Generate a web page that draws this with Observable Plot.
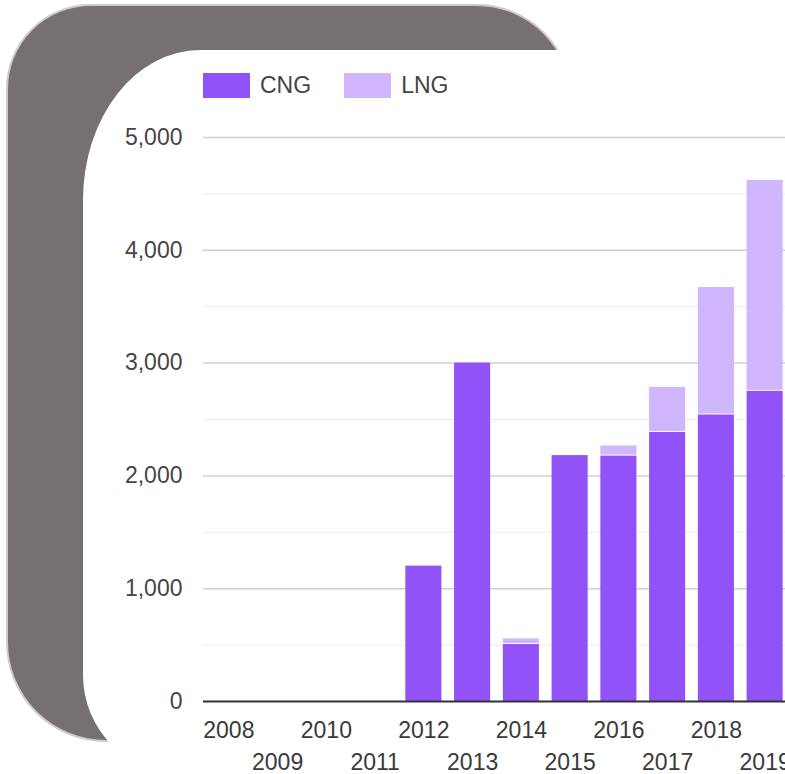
<!DOCTYPE html>
<html>
<head>
<meta charset="utf-8">
<script src="https://cdn.jsdelivr.net/npm/d3@7"></script>
<script src="https://cdn.jsdelivr.net/npm/@observablehq/plot@0.6"></script>
<style>
  html, body { margin: 0; padding: 0; width: 785px; height: 774px; overflow: hidden; background: #fff; }
  body { position: relative; font-family: "Liberation Sans", Arial, sans-serif; }
  #gray { position: absolute; left: 6px; top: 4px; width: 562px; height: 734px; background: #767170;
          border: 2px solid #cbcbcb; border-radius: 85px 95px 0 100px; }
  #card { position: absolute; left: 83px; top: 50px; width: 800px; height: 725px; background: #fff;
          border-radius: 117px 0 0 100px / 150px 0 0 100px; }
  #legend { position: absolute; left: 203px; top: 72px; display: flex; align-items: center; font-size: 23px; color: #444; }
  #legend .sw { width: 47px; height: 25px; margin-right: 10px; }
  #legend .item { display: flex; align-items: center; margin-right: 33px; }
  #chart { position: absolute; left: 90px; top: 115px; width: 702px; }
  #chart svg { max-width: none !important; }
</style>
</head>
<body>
<div id="gray"></div>
<div id="card"></div>
<div id="legend"></div>
<div id="chart"></div>
<script>
const years = ["2008","2009","2010","2011","2012","2013","2014","2015","2016","2017","2018","2019"];
const cng = [0, 0, 0, 0, 1200, 3000, 505, 2180, 2175, 2385, 2540, 2750];
const lng = [0, 0, 0, 0, 0, 0, 50, 0, 90, 400, 1130, 1870];
const seriesNames = ["CNG", "LNG"];
const seriesColors = ["#9152f8", "#d0b6fc"];
const yMajorTicks = [0, 1000, 2000, 3000, 4000, 5000];
const yMinorTicks = [500, 1500, 2500, 3500, 4500];
const evenYears = years.filter((d, i) => i % 2 === 0);
const oddYears = years.filter((d, i) => i % 2 === 1);

const rows = years.map((y, i) => ({year: y, cng: cng[i], lng: lng[i], total: cng[i] + lng[i]}));

// legend
const legend = document.getElementById("legend");
seriesNames.forEach((name, i) => {
  const item = document.createElement("div");
  item.className = "item";
  const sw = document.createElement("div");
  sw.className = "sw";
  sw.style.background = seriesColors[i];
  const t = document.createElement("span");
  t.textContent = name;
  item.appendChild(sw);
  item.appendChild(t);
  legend.appendChild(item);
});

const chart = Plot.plot({
  width: 702,
  height: 659,
  marginLeft: 113,
  marginRight: 2,
  marginTop: 22,
  marginBottom: 73,
  style: {background: "transparent", fontFamily: "Liberation Sans, Arial, sans-serif", fontSize: "23px", overflow: "visible", maxWidth: "none"},
  x: {domain: years, paddingInner: 0.26, paddingOuter: 0.15, round: false, label: null},
  y: {domain: [0, 5000], label: null},
  marks: [
    Plot.gridY({ticks: yMinorTicks, stroke: "#ebebeb", strokeOpacity: 1, strokeWidth: 1}),
    Plot.gridY({ticks: yMajorTicks.slice(1), stroke: "#d0d0d0", strokeOpacity: 1, strokeWidth: 1.5}),
    Plot.barY(rows.filter(d => d.cng > 0), {x: "year", y1: 0, y2: "cng", fill: seriesColors[0]}),
    Plot.barY(rows.filter(d => d.lng > 0), {x: "year", y1: "cng", y2: "total", fill: seriesColors[1], insetBottom: 1}),
    Plot.ruleY([0], {stroke: "#333", strokeWidth: 2}),
    Plot.axisY({ticks: yMajorTicks, tickSize: 0, tickPadding: 21, tickFormat: d3.format(","), fontSize: 23, color: "#454545"}),
    Plot.axisX({ticks: evenYears, tickSize: 0, tickPadding: 20, fontSize: 23, color: "#3a3a3a"}),
    Plot.axisX({ticks: oddYears, tickSize: 0, tickPadding: 52, fontSize: 23, color: "#3a3a3a"})
  ]
});
document.getElementById("chart").appendChild(chart);
</script>
</body>
</html>
